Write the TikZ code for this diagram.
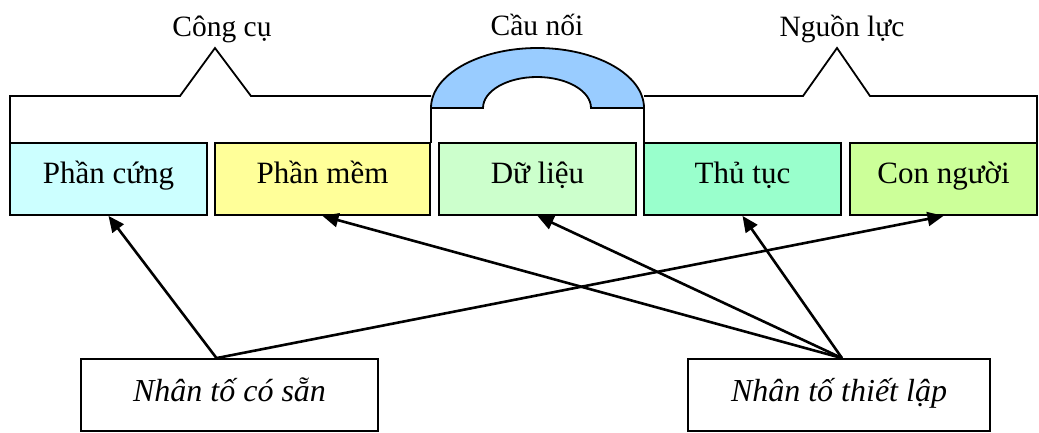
\documentclass[tikz,border=0pt]{standalone}
\usepackage{fontspec}
\setmainfont{Liberation Serif}
\usetikzlibrary{arrows.meta,calc}
\definecolor{chw}{HTML}{CCFFFF}
\definecolor{csw}{HTML}{FFFF99}
\definecolor{cdata}{HTML}{CCFFCC}
\definecolor{cproc}{HTML}{99FFCC}
\definecolor{cpeople}{HTML}{CCFF99}
\definecolor{carch}{HTML}{99CCFF}
\tikzset{
  box/.style={draw, line width=1.8pt, inner sep=0pt, minimum height=72pt, text height=22pt, text depth=14pt, font=\fontsize{31}{31}\selectfont},
  factor/.style={draw, line width=1.8pt, inner sep=0pt, minimum height=72pt, text height=22pt, text depth=10pt, fill=white, font=\fontsize{32}{32}\selectfont\itshape},
  toplabel/.style={inner sep=0pt, text height=20pt, text depth=8pt, font=\fontsize{29.5}{29.5}\selectfont},
  bracket/.style={line width=1.8pt, line join=miter},
  conn/.style={line width=2.6pt, -{Triangle[length=16pt,width=14pt]}}
}
\begin{document}
\begin{tikzpicture}[x=1pt,y=-1pt]
\useasboundingbox (0,0) rectangle (1039,432);
% brackets
\draw[bracket] (10,143) -- (10,96) -- (180,96) -- (215,48) -- (251,96) -- (431,96);
\draw[bracket] (644,96) -- (803,96) -- (837,48) -- (870,96) -- (1037,96) -- (1037,143);
\draw[bracket] (431,108) -- (431,143);
\draw[bracket] (644,108) -- (644,143);
% bridge arch
\draw[bracket, fill=carch] (431,108) arc[start angle=180, end angle=0, x radius=106.5pt, y radius=60pt]
  -- (591,108) arc[start angle=0, end angle=180, x radius=54pt, y radius=31pt] -- cycle;
% labels
\node[toplabel] (lcc) at (222,30) {Công cụ};
\node[toplabel] (lcn) at (537,29) {Cầu nối};
\node[toplabel] (lnl) at (842,30) {Nguồn lực};
% components
\node[box, fill=chw, minimum width=197pt] (hw) at (108.5,179) {Phần cứng};
\node[box, fill=csw, minimum width=215pt] (sw) at (322.5,179) {Phần mềm};
\node[box, fill=cdata, minimum width=197pt] (data) at (537.5,179) {Dữ liệu};
\node[box, fill=cproc, minimum width=197pt] (proc) at (742.5,179) {Thủ tục};
\node[box, fill=cpeople, minimum width=187pt] (people) at (943.5,179) {Con người};
% factors
\node[factor, minimum width=297pt] (avail) at (229.5,395) {Nhân tố có sẵn};
\node[factor, minimum width=302pt] (setup) at (839,395) {Nhân tố thiết lập};
\coordinate (sa) at ($(avail.north)+(-13,0)$);
\coordinate (ss) at ($(setup.north)+(3,0)$);
% connectors
\draw[conn] (sa) -- (hw.south);
\draw[conn] (sa) -- (people.south);
\draw[conn] (ss) -- (sw.south);
\draw[conn] (ss) -- (data.south);
\draw[conn] (ss) -- (proc.south);
\end{tikzpicture}
\end{document}
